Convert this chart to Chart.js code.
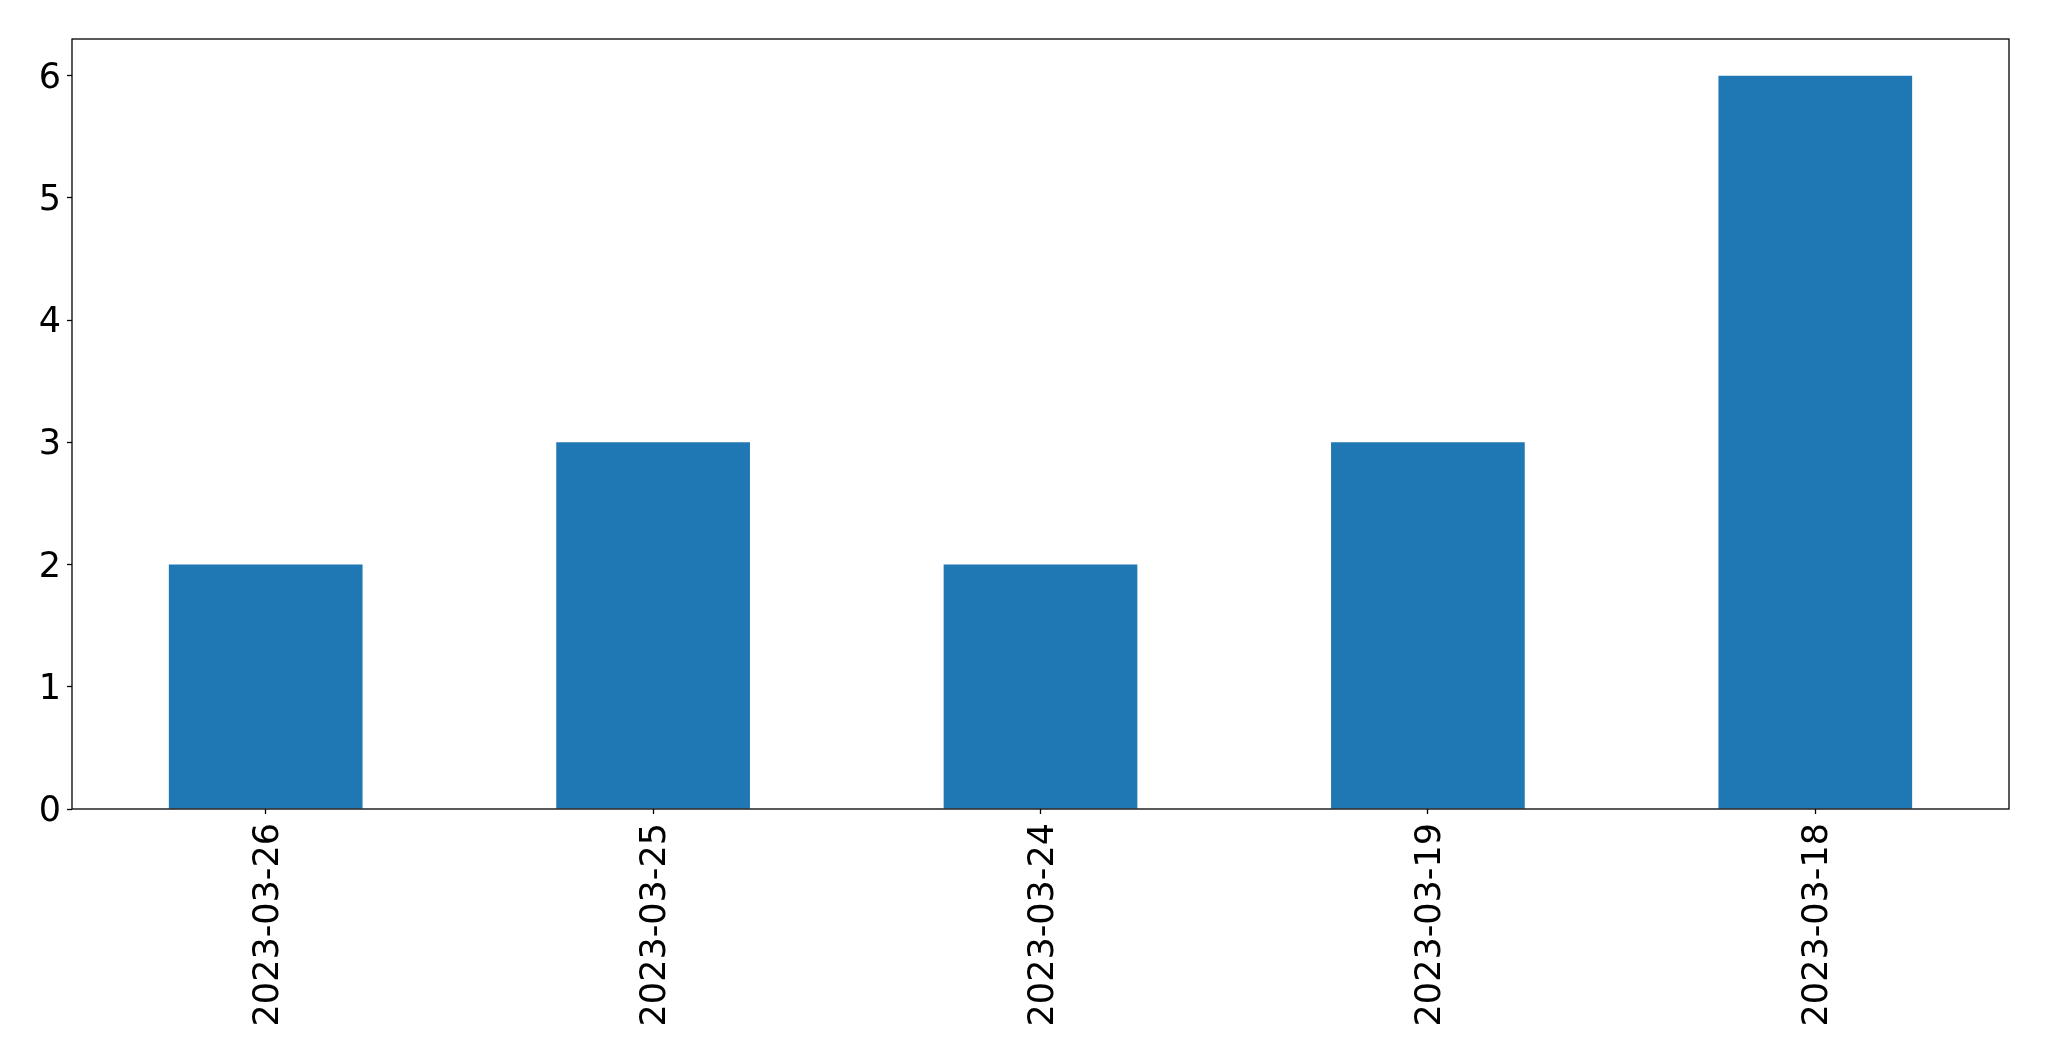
<!DOCTYPE html>
<html>
<head>
<meta charset="utf-8">
<script src="https://cdn.jsdelivr.net/npm/chart.js@4.4.0/dist/chart.umd.min.js"></script>
<style>
  html, body { margin: 0; padding: 0; background: #fff; }
  #wrap { width: 2049px; height: 1061px; }
</style>
</head>
<body>
<div id="wrap"><canvas id="barChart" width="2049" height="1061"></canvas></div>
<script>
// values
var dates = ['2023-03-26', '2023-03-25', '2023-03-24', '2023-03-19', '2023-03-18'];
var counts = [2, 3, 2, 3, 6];
var yMin = 0;
var yMax = 6.3;

// frame round the plot area, like matplotlib's spines
var framePlugin = {
    id: 'frame',
    afterDraw: function (chart) {
        var a = chart.chartArea;
        var ctx = chart.ctx;
        ctx.save();
        ctx.strokeStyle = '#000';
        ctx.lineWidth = 1.3;
        ctx.strokeRect(a.left, a.top, a.right - a.left, a.bottom - a.top);
        ctx.restore();
    }
};

Chart.defaults.font.family = '"DejaVu Sans", sans-serif';
Chart.defaults.color = '#000';

var ctx = document.getElementById('barChart').getContext('2d');
var barChart = new Chart(ctx, {
    type: 'bar',
    data: {
        labels: dates,
        datasets: [{
            data: counts,
            backgroundColor: '#1f77b4',
            borderWidth: 0,
            categoryPercentage: 1.0,
            barPercentage: 0.5
        }]
    },
    options: {
        responsive: false,
        animation: false,
        layout: { padding: { top: 39, right: 40, left: 0, bottom: 0 } },
        plugins: {
            legend: { display: false },
            tooltip: { enabled: false }
        },
        scales: {
            x: {
                offset: true,
                grid: { display: true, drawOnChartArea: false, drawTicks: true, tickLength: 5, tickColor: '#000', tickWidth: 1.3, offset: false },
                border: { display: false },
                ticks: {
                    font: { size: 35 },
                    color: '#000',
                    minRotation: 90,
                    maxRotation: 90,
                    padding: 9,
                    labelOffset: 3,
                    autoSkip: false
                },
                afterFit: function (scale) { scale.height = 252; }
            },
            y: {
                min: yMin,
                max: yMax,
                grid: { display: true, drawOnChartArea: false, drawTicks: true, tickLength: 5, tickColor: '#000', tickWidth: 1.3 },
                border: { display: false },
                ticks: {
                    stepSize: 1,
                    includeBounds: false,
                    font: { size: 35 },
                    color: '#000',
                    padding: 6,
                    labelOffset: 3
                },
                afterFit: function (scale) { scale.width = 72; }
            }
        }
    },
    plugins: [framePlugin]
});
</script>
</body>
</html>
